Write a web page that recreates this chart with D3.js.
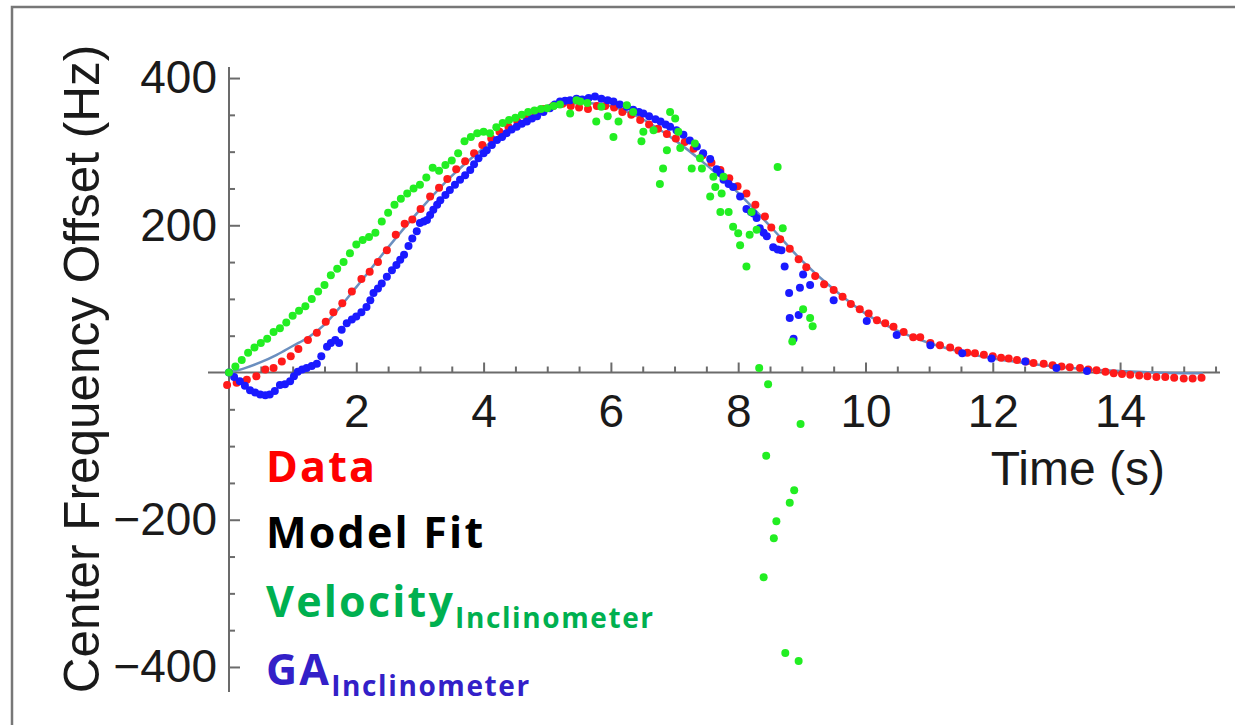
<!DOCTYPE html>
<html><head><meta charset="utf-8">
<script src="https://cdn.jsdelivr.net/npm/d3@7"></script>
<style>
html,body{margin:0;padding:0;background:#fff;}
svg{display:block;}
</style></head>
<body>
<svg id="c" width="1235" height="725"></svg>
<script>
// ---------- data ----------
const xTickValues = [2, 4, 6, 8, 10, 12, 14];
const yTickValues = [-400, -200, 200, 400];
const xTitle = "Time (s)";
const yTitle = "Center Frequency Offset (Hz)";
const legendLabels = ["Data", "Model Fit", "Velocity", "GA"];
const legendSub = "Inclinometer";

const redT = [-0.03,0.12,0.28,0.43,0.57,0.70,0.83,0.97,1.09,1.24,1.38,1.52,1.64,1.78,1.93,2.08,2.21,2.34,2.48,2.62,2.76,2.88,3.01,3.16,3.30,3.43,3.57,3.71,3.85,3.98,4.12,4.25,4.39,4.53,4.67,4.81,4.95,5.09,5.24,5.37,5.50,5.64,5.78,5.91,6.05,6.18,6.32,6.46,6.60,6.74,6.88,7.02,7.16,7.30,7.44,7.58,7.72,7.86,7.99,8.13,8.27,8.42,8.52,8.66,8.81,8.95,9.07,9.21,9.35,9.50,9.64,9.77,9.91,10.05,10.18,10.31,10.44,10.60,10.75,10.86,11.02,11.17,11.33,11.46,11.60,11.72,11.86,12.00,12.13,12.25,12.38,12.52,12.64,12.80,12.94,13.08,13.21,13.37,13.50,13.63,13.77,13.90,14.03,14.16,14.30,14.43,14.57,14.71,14.85,15.00,15.14,15.28];
const redV = [-17,-14,-10,-5,4,6,15,22,32,44,54,69,82,94,110,127,137,150,166,187,202,208,222,239,251,263,276,287,298,309,318,327,334,341,348,353,358,362,365,362,360,358,362,362,360,354,350,343,337,331,324,318,313,304,295,285,275,264,253,243,228,212,197,181,168,154,143,131,120,112,103,93,86,80,71,67,62,55,48,48,40,37,34,30,27,26,24,22,20,19,17,15,13,12,10,8,7,6,4,3,1,-1,-2,-3,-4,-5,-6,-6,-7,-8,-8,-7];

const fitT = [0,0.25,0.5,0.75,1,1.25,1.5,2,2.5,3,3.5,4,4.5,5,5.5,6,6.5,7,7.5,8,8.5,9,9.5,10,10.5,11,11.5,12,12.5,13,13.5,14,14.5,15,15.3];
const fitV = [0,6,14,24,36,48,65,116,170,221,267,305,336,357,366,362,344,316,282,244,199,152,113,80,57,40,28,19,13,8,4,2,0,-1,-1];

const blueT = [0.00,0.08,0.17,0.25,0.33,0.41,0.49,0.57,0.64,0.72,0.80,0.88,0.96,1.02,1.08,1.15,1.22,1.30,1.38,1.45,1.54,1.60,1.67,1.73,1.77,1.85,1.93,2.00,2.08,2.16,2.22,2.27,2.34,2.40,2.48,2.56,2.63,2.69,2.75,2.82,2.88,2.95,3.00,3.06,3.11,3.16,3.21,3.27,3.32,3.40,3.47,3.55,3.63,3.71,3.79,3.85,3.92,4.00,4.05,4.13,4.21,4.29,4.36,4.44,4.52,4.60,4.68,4.76,4.84,4.94,5.04,5.12,5.20,5.28,5.36,5.46,5.55,5.65,5.75,5.85,5.95,6.04,6.14,6.25,6.35,6.44,6.51,6.60,6.70,6.78,6.86,6.93,7.03,7.14,7.24,7.35,7.45,7.56,7.66,7.72,7.77,7.85,7.92,8.03,8.13,8.20,8.24,8.29,8.34,8.40,8.45,8.55,8.62,8.68,8.73,8.80,8.81,8.87,8.95,8.97,9.02,9.13,9.50,10.02,10.49,11.02,11.52,11.98,12.51,13.00,13.48];
const blueV = [0,-6,-12,-18,-24,-27,-30,-31,-30,-25,-17,-16,-12,-5,1,4,6,9,12,22,35,40,44,40,58,67,72,76,82,89,98,108,114,121,130,139,146,153,160,172,182,192,203,205,207,214,221,228,234,241,248,255,262,268,275,283,291,298,302,309,316,320,325,330,334,338,341,345,348,354,359,364,368,369,370,372,371,373,375,372,370,368,364,361,357,354,352,348,344,341,337,334,329,323,315,307,298,290,276,271,262,256,252,239,222,218,216,210,196,190,185,170,167,166,144,108,74,46,78,115,133,119,98,70,51,37,26,19,15,6,2];

const greenT = [0.00,0.10,0.20,0.30,0.40,0.50,0.60,0.70,0.80,0.90,1.00,1.10,1.20,1.30,1.40,1.50,1.60,1.70,1.80,1.90,2.00,2.10,2.20,2.30,2.40,2.50,2.60,2.70,2.80,2.90,3.00,3.10,3.20,3.30,3.40,3.50,3.60,3.70,3.80,3.90,4.00,4.10,4.20,4.30,4.40,4.50,4.60,4.70,4.80,4.90,5.00,5.10,5.20,5.36,5.46,5.52,5.63,5.77,5.85,5.95,6.04,6.12,6.25,6.35,6.48,6.51,6.67,6.77,6.82,6.88,6.93,7.01,7.06,7.09,7.27,7.32,7.40,7.43,7.56,7.61,7.64,7.72,7.74,7.77,7.85,7.92,8.00,8.03,8.13,8.18,8.21,8.29,8.33,8.47,8.62,8.70,8.85,8.98,9.02,9.13,9.17,8.44,8.88,8.81,8.60,8.56,8.40,8.74,8.95];
const greenV = [0,8,17,27,34,40,46,55,60,68,77,84,90,100,110,119,132,141,150,162,174,180,184,190,205,217,228,236,243,250,255,265,278,274,282,288,298,314,320,325,327,325,333,339,343,346,350,354,356,358,359,362,364,352,370,368,366,341,361,348,320,341,363,354,314,327,329,256,277,302,354,345,327,305,277,311,291,277,239,266,252,218,243,266,218,198,189,173,144,187,218,194,6,-16,279,196,42,-70,86,74,63,-113,-160,-177,-202,-225,-278,-381,-392];

// ---------- drawing ----------
const svg = d3.select("#c");
const x = d3.scaleLinear().domain([-0.33, 15.57]).range([208, 1220]);
const y = d3.scaleLinear().domain([-434, 415]).range([692, 67]);
const axisColor = "#6b6b6b";
const tickFont = "'Liberation Sans', Arial, sans-serif";

// outer frame
svg.append("path").attr("d", "M12,725 L12,7 L1235,7")
  .attr("fill", "none").attr("stroke", "#777").attr("stroke-width", 2.5);

// minor ticks
const xMinor = d3.range(1, 32).map(i => i * 0.5).filter(v => v % 2 !== 0);
const yMinor = d3.range(-8, 9).map(i => i * 50).filter(v => v !== 0 && !yTickValues.includes(v));

const gx = svg.append("g").attr("transform", `translate(0,${y(0)})`);
gx.call(d3.axisBottom(x).tickValues(xMinor).tickSizeInner(-6).tickSizeOuter(0).tickFormat(""));
gx.call(g => g.selectAll("path.domain").remove());
const gx2 = svg.append("g").attr("transform", `translate(0,${y(0)})`);
gx2.call(d3.axisBottom(x).tickValues(xTickValues).tickSizeInner(-10).tickSizeOuter(0).tickPadding(22));
gx2.select("path.domain").attr("d", `M${x.range()[0]},0H${x.range()[1]}`);

const gy = svg.append("g").attr("transform", `translate(${x(0)},0)`);
gy.call(d3.axisLeft(y).tickValues(yMinor).tickSizeInner(-6).tickSizeOuter(0).tickFormat(""));
gy.call(g => g.selectAll("path.domain").remove());
const gy2 = svg.append("g").attr("transform", `translate(${x(0)},0)`);
gy2.call(d3.axisLeft(y).tickValues(yTickValues).tickSizeInner(-11).tickSizeOuter(0).tickPadding(12)
  .tickFormat(d => d < 0 ? "\u2212" + Math.abs(d) : d));
gy2.select("path.domain").attr("d", `M0,${y.range()[0]}V${y.range()[1]}`);

[gx, gx2, gy, gy2].forEach(g => {
  g.selectAll("path.domain, .tick line").attr("stroke", axisColor).attr("stroke-width", 2);
  g.selectAll(".tick text").attr("fill", "#1a1a1a").attr("font-size", 46).attr("font-family", tickFont);
});

// axis titles
svg.append("text").attr("x", 1165).attr("y", 485).attr("text-anchor", "end")
  .attr("font-family", tickFont).attr("font-size", 48).attr("fill", "#1a1a1a").text(xTitle);
svg.append("text").attr("transform", "translate(99,369) rotate(-90)").attr("text-anchor", "middle")
  .attr("font-family", tickFont).attr("font-size", 49.5).attr("fill", "#1a1a1a").text(yTitle);

// model fit line
const line = d3.line().x((d, i) => x(fitT[i])).y(d => y(d)).curve(d3.curveCatmullRom.alpha(0.5));
svg.append("path").datum(fitV).attr("d", line).attr("fill", "none")
  .attr("stroke", "#6b8fbf").attr("stroke-width", 2.5);

function dots(T, V, color) {
  svg.append("g").selectAll("circle").data(V).join("circle")
    .attr("cx", (d, i) => x(T[i])).attr("cy", d => y(d)).attr("r", 4).attr("fill", color);
}
dots(redT, redV, "#ff1a1a");
dots(blueT, blueV, "#1a1aff");
dots(greenT, greenV, "#22ee22");

// legend
const lf = "'Open Sans', 'Noto Sans', sans-serif";
const leg = [
  {t: legendLabels[0], c: "#ff0000", y: 482, sub: false},
  {t: legendLabels[1], c: "#000000", y: 548, sub: false},
  {t: legendLabels[2], c: "#00b050", y: 617, sub: true},
  {t: legendLabels[3], c: "#3320c8", y: 685, sub: true}
];
leg.forEach(l => {
  const tx = svg.append("text").attr("x", 266).attr("y", l.y).attr("font-family", lf)
    .attr("font-weight", 700).attr("font-size", 43).attr("letter-spacing", 2.2)
    .attr("fill", l.c).text(l.t);
  if (l.sub) {
    const w = tx.node().getComputedTextLength();
    svg.append("text").attr("x", 266 + w).attr("y", l.y + 11).attr("font-family", lf)
      .attr("font-weight", 700).attr("font-size", 28).attr("letter-spacing", 1.6)
      .attr("fill", l.c).text(legendSub);
  }
});
</script>
</body></html>
